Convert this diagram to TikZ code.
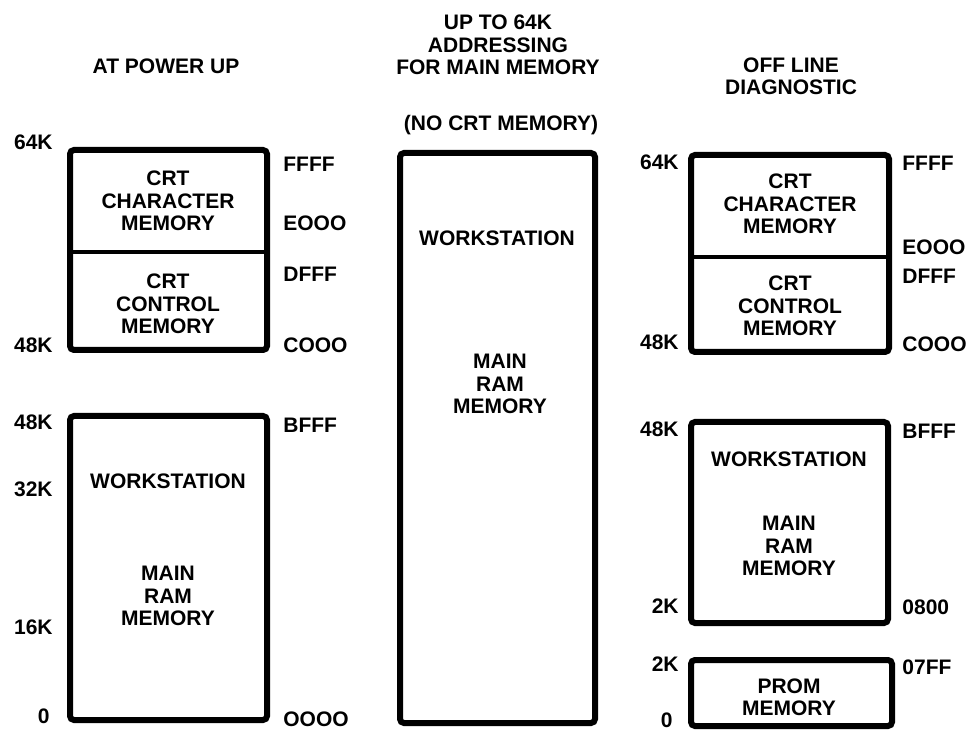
\documentclass[tikz,border=0pt]{standalone}
\usepackage{fontspec}
\setmainfont{Liberation Sans}
\begin{document}
\begin{tikzpicture}[x=0.5pt,y=-0.5pt,
  membox/.style={line width=3pt, rounded corners=2pt},
  divline/.style={line width=1.6pt},
  lbl/.style={font=\bfseries\fontsize{10.5}{11.2}\selectfont, inner sep=0pt, align=center},
  addrL/.style={lbl, anchor=east},
  addrR/.style={lbl, anchor=west}]
\useasboundingbox (0,0) rectangle (974,731);

% ---------- left column: AT POWER UP ----------
\node[lbl] (t1) at (166,66) {AT POWER UP};
\draw[membox] (70,150) rectangle (267,350);
\draw[divline] (70,252) -- (267,252);
\draw[membox] (70,416) rectangle (267,720);
\node[lbl] (l1) at (168,201) {CRT\\CHARACTER\\MEMORY};
\node[lbl] (l2) at (168,304) {CRT\\CONTROL\\MEMORY};
\node[lbl] (l3) at (168,481) {WORKSTATION};
\node[lbl] (l4) at (168,596) {MAIN\\RAM\\MEMORY};
\node[addrL] (la1) at (53,142) {64K};
\node[addrL] (la2) at (53,345) {48K};
\node[addrL] (la3) at (53,422) {48K};
\node[addrL] (la4) at (53,489) {32K};
\node[addrL] (la5) at (53,627) {16K};
\node[addrL] (la6) at (50,716) {0};
\node[addrR] (lr1) at (283,164) {FFFF};
\node[addrR] (lr2) at (283,223) {EOOO};
\node[addrR] (lr3) at (283,274) {DFFF};
\node[addrR] (lr4) at (283,345) {COOO};
\node[addrR] (lr5) at (283,425) {BFFF};
\node[addrR] (lr6) at (283,719) {OOOO};

% ---------- middle column ----------
\node[lbl] (t2) at (498,45) {UP TO 64K\\ADDRESSING\\FOR MAIN MEMORY};
\node[lbl] (t2b) at (501,125) {(NO CRT MEMORY)};
\draw[membox] (400,153) rectangle (595,723);
\node[lbl] (m1) at (497,238) {WORKSTATION};
\node[lbl] (m2) at (500,384) {MAIN\\RAM\\MEMORY};

% ---------- right column: OFF LINE DIAGNOSTIC ----------
\node[lbl] (t3) at (791,76) {OFF LINE\\DIAGNOSTIC};
\draw[membox] (691,155) rectangle (889,352);
\draw[divline] (691,257) -- (889,257);
\draw[membox] (691,422) rectangle (888,623);
\draw[membox] (691,660) rectangle (892,726);
\node[lbl] (r1) at (790,204) {CRT\\CHARACTER\\MEMORY};
\node[lbl] (r2) at (790,306) {CRT\\CONTROL\\MEMORY};
\node[lbl] (r3) at (789,459) {WORKSTATION};
\node[lbl] (r4) at (789,546) {MAIN\\RAM\\MEMORY};
\node[lbl] (r5) at (789,697) {PROM\\MEMORY};
\node[addrL] (ra1) at (679,162) {64K};
\node[addrL] (ra2) at (679,342) {48K};
\node[addrL] (ra3) at (679,429) {48K};
\node[addrL] (ra4) at (679,606) {2K};
\node[addrL] (ra5) at (679,664) {2K};
\node[addrL] (ra6) at (673,720) {0};
\node[addrR] (rr1) at (902,163) {FFFF};
\node[addrR] (rr2) at (902,247) {EOOO};
\node[addrR] (rr3) at (902,276) {DFFF};
\node[addrR] (rr4) at (902,344) {COOO};
\node[addrR] (rr5) at (902,431) {BFFF};
\node[addrR] (rr6) at (902,607) {0800};
\node[addrR] (rr7) at (902,667) {07FF};
\end{tikzpicture}
\end{document}
